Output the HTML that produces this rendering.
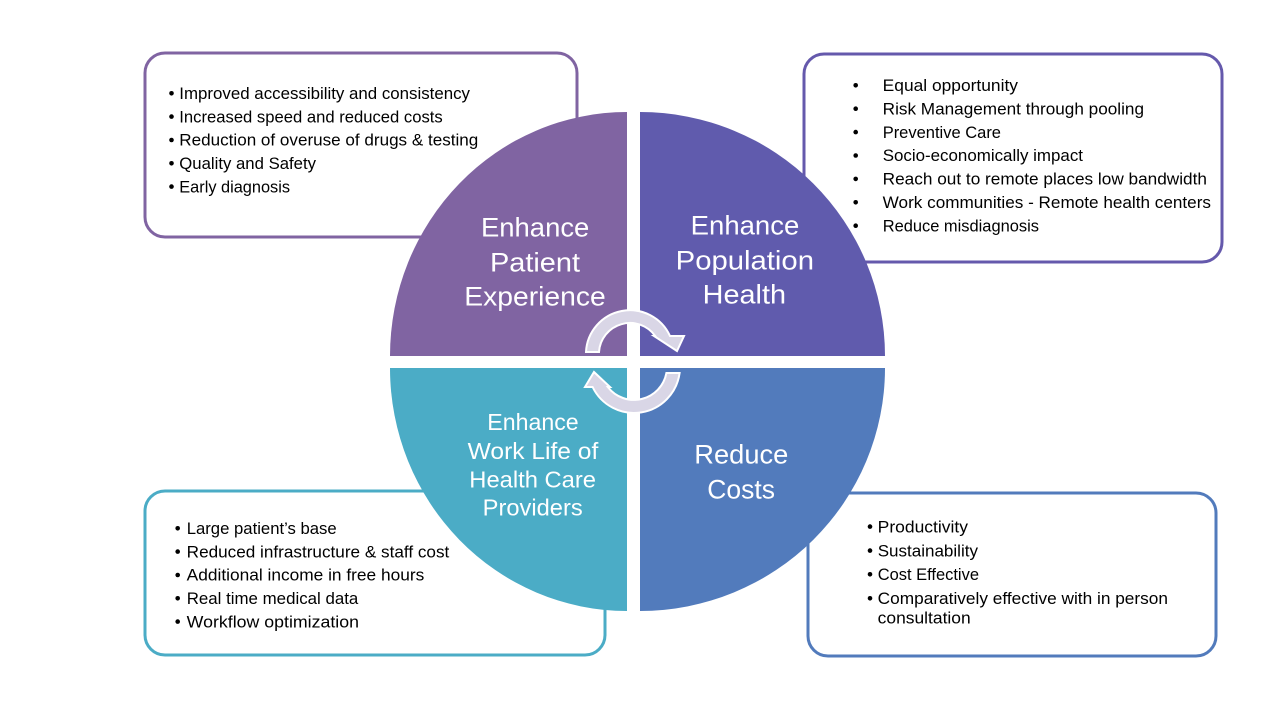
<!DOCTYPE html>
<html>
<head>
<meta charset="utf-8">
<style>
  html, body { margin: 0; padding: 0; background: #ffffff; }
  svg { display: block; }
  .t { font-family: "Liberation Sans", Arial, sans-serif; font-size: 17px; fill: #000000; }
  .b { font-family: "Liberation Sans", Arial, sans-serif; font-size: 27px; fill: #ffffff; }
  .bs { font-family: "Liberation Sans", Arial, sans-serif; font-size: 23px; fill: #ffffff; }
</style>
</head>
<body>
<svg width="1280" height="720" viewBox="0 0 1280 720" xmlns="http://www.w3.org/2000/svg">
  <rect x="0" y="0" width="1280" height="720" fill="#ffffff"/>

  <!-- Boxes (behind circle) -->
  <rect x="145" y="53" width="432" height="184" rx="20" ry="20" fill="#ffffff" stroke="#8064A2" stroke-width="3"/>
  <rect x="804" y="54" width="418" height="208" rx="20" ry="20" fill="#ffffff" stroke="#6559AC" stroke-width="3"/>
  <rect x="145" y="491" width="460" height="164" rx="20" ry="20" fill="#ffffff" stroke="#4BACC6" stroke-width="3"/>
  <rect x="808" y="493" width="408" height="163" rx="20" ry="20" fill="#ffffff" stroke="#527BBC" stroke-width="3"/>

  <!-- Quadrants -->
  <path d="M627,356 L390,356 A237,244 0 0 1 627,112 Z" fill="#8064A2"/>
  <path d="M640,356 L640,112 A245,244 0 0 1 885,356 Z" fill="#605BAD"/>
  <path d="M640,368 L885,368 A245,243 0 0 1 640,611 Z" fill="#527BBC"/>
  <path d="M627,368 L627,611 A237,243 0 0 1 390,368 Z" fill="#4BACC6"/>

  <!-- Circular arrows -->
  <path d="M586,352 A44,44 0 0 1 670,336 L684,336 L677,351 L654,336 L655.2,336 A31,31 0 0 0 599,352 Z"
        fill="#D9D6E6" stroke="#ffffff" stroke-width="2" stroke-linejoin="miter"/>
  <path d="M679.6,373 A46,46 0 0 1 592.6,387 L585,387 L594,372 L610,387 L607.8,387 A33,33 0 0 0 666.4,373 Z"
        fill="#D9D6E6" stroke="#ffffff" stroke-width="2" stroke-linejoin="miter"/>

  <!-- Quadrant labels -->
  <text class="b" x="481" y="236.7" textLength="108.3" lengthAdjust="spacingAndGlyphs">Enhance</text>
  <text class="b" x="490" y="271.7" textLength="90" lengthAdjust="spacingAndGlyphs">Patient</text>
  <text class="b" x="464.3" y="305.7" textLength="141.4" lengthAdjust="spacingAndGlyphs">Experience</text>

  <text class="b" x="690.7" y="234.3" textLength="108.6" lengthAdjust="spacingAndGlyphs">Enhance</text>
  <text class="b" x="675.7" y="269.3" textLength="138.3" lengthAdjust="spacingAndGlyphs">Population</text>
  <text class="b" x="702.7" y="303.3" textLength="83.3" lengthAdjust="spacingAndGlyphs">Health</text>

  <text class="bs" x="487.3" y="430" textLength="91.4" lengthAdjust="spacingAndGlyphs">Enhance</text>
  <text class="bs" x="467.7" y="459" textLength="130.6" lengthAdjust="spacingAndGlyphs">Work Life of</text>
  <text class="bs" x="469.3" y="487.3" textLength="126.7" lengthAdjust="spacingAndGlyphs">Health Care</text>
  <text class="bs" x="482.7" y="515.7" textLength="100" lengthAdjust="spacingAndGlyphs">Providers</text>

  <text class="b" x="694.3" y="463.3" textLength="94" lengthAdjust="spacingAndGlyphs">Reduce</text>
  <text class="b" x="707.3" y="498.3" textLength="67.7" lengthAdjust="spacingAndGlyphs">Costs</text>

  <!-- Top-left box text -->
  <g fill="#000">
    <circle cx="171.5" cy="93.3" r="2.3"/>
    <circle cx="171.5" cy="116.6" r="2.3"/>
    <circle cx="171.5" cy="140" r="2.3"/>
    <circle cx="171.5" cy="163.3" r="2.3"/>
    <circle cx="171.5" cy="186.6" r="2.3"/>
  </g>
  <text class="t" x="179.3" y="99" textLength="290.7" lengthAdjust="spacingAndGlyphs">Improved accessibility and consistency</text>
  <text class="t" x="179.3" y="122.3" textLength="263.4" lengthAdjust="spacingAndGlyphs">Increased speed and reduced costs</text>
  <text class="t" x="179.3" y="145.7" textLength="299" lengthAdjust="spacingAndGlyphs">Reduction of overuse of drugs &amp; testing</text>
  <text class="t" x="179.3" y="169" textLength="136.7" lengthAdjust="spacingAndGlyphs">Quality and Safety</text>
  <text class="t" x="179.3" y="192.3" textLength="110.7" lengthAdjust="spacingAndGlyphs">Early diagnosis</text>

  <!-- Top-right box text -->
  <g fill="#000">
    <circle cx="855.7" cy="85.3" r="2.3"/>
    <circle cx="855.7" cy="108.7" r="2.3"/>
    <circle cx="855.7" cy="132.1" r="2.3"/>
    <circle cx="855.7" cy="155.5" r="2.3"/>
    <circle cx="855.7" cy="178.9" r="2.3"/>
    <circle cx="855.7" cy="202.3" r="2.3"/>
    <circle cx="855.7" cy="225.7" r="2.3"/>
  </g>
  <text class="t" x="882.7" y="91" textLength="135.3" lengthAdjust="spacingAndGlyphs">Equal opportunity</text>
  <text class="t" x="882.7" y="114.4" textLength="261.3" lengthAdjust="spacingAndGlyphs">Risk Management through pooling</text>
  <text class="t" x="882.7" y="137.8" textLength="118.3" lengthAdjust="spacingAndGlyphs">Preventive Care</text>
  <text class="t" x="882.7" y="161.2" textLength="200.3" lengthAdjust="spacingAndGlyphs">Socio-economically impact</text>
  <text class="t" x="882.7" y="184.6" textLength="324.3" lengthAdjust="spacingAndGlyphs">Reach out to remote places low bandwidth</text>
  <text class="t" x="882.7" y="208" textLength="328.3" lengthAdjust="spacingAndGlyphs">Work communities - Remote health centers</text>
  <text class="t" x="882.7" y="231.4" textLength="156.3" lengthAdjust="spacingAndGlyphs">Reduce misdiagnosis</text>

  <!-- Bottom-left box text -->
  <g fill="#000">
    <circle cx="177.7" cy="528.3" r="2.3"/>
    <circle cx="177.7" cy="551.6" r="2.3"/>
    <circle cx="177.7" cy="575" r="2.3"/>
    <circle cx="177.7" cy="598.3" r="2.3"/>
    <circle cx="177.7" cy="621.6" r="2.3"/>
  </g>
  <text class="t" x="186.7" y="534" textLength="150" lengthAdjust="spacingAndGlyphs">Large patient’s base</text>
  <text class="t" x="186.7" y="557.3" textLength="262.6" lengthAdjust="spacingAndGlyphs">Reduced infrastructure &amp; staff cost</text>
  <text class="t" x="186.7" y="580.7" textLength="237.6" lengthAdjust="spacingAndGlyphs">Additional income in free hours</text>
  <text class="t" x="186.7" y="604" textLength="171.6" lengthAdjust="spacingAndGlyphs">Real time medical data</text>
  <text class="t" x="186.7" y="627.3" textLength="172.3" lengthAdjust="spacingAndGlyphs">Workflow optimization</text>

  <!-- Bottom-right box text -->
  <g fill="#000">
    <circle cx="870" cy="526.6" r="2.3"/>
    <circle cx="870" cy="550.6" r="2.3"/>
    <circle cx="870" cy="574.3" r="2.3"/>
    <circle cx="870" cy="598.3" r="2.3"/>
  </g>
  <text class="t" x="877.7" y="532.3" textLength="90.3" lengthAdjust="spacingAndGlyphs">Productivity</text>
  <text class="t" x="877.7" y="556.3" textLength="100.3" lengthAdjust="spacingAndGlyphs">Sustainability</text>
  <text class="t" x="877.7" y="580" textLength="101.3" lengthAdjust="spacingAndGlyphs">Cost Effective</text>
  <text class="t" x="877.7" y="604" textLength="290.3" lengthAdjust="spacingAndGlyphs">Comparatively effective with in person</text>
  <text class="t" x="877.7" y="623.3" textLength="93" lengthAdjust="spacingAndGlyphs">consultation</text>
</svg>
</body>
</html>
